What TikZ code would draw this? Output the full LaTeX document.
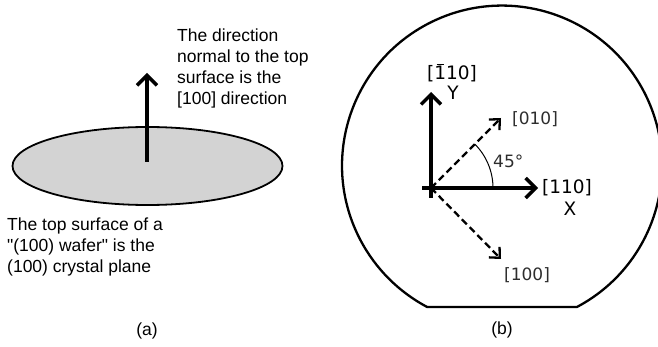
\documentclass[tikz,border=0pt]{standalone}
\usepackage{fontspec}
\setmainfont{Liberation Sans}
\newfontfamily\dejavu{DejaVu Sans}
\usetikzlibrary{arrows.meta,shapes.geometric}
\definecolor{wafergray}{RGB}{211,211,211}
\definecolor{lblgray}{RGB}{45,45,45}
\tikzset{
  txt/.style={inner sep=0pt, align=left, font=\fontsize{17.5}{21}\selectfont},
  captxt/.style={inner sep=0pt, font=\fontsize{17.5}{21}\selectfont},
  lblbig/.style={inner sep=0pt, font=\dejavu\fontsize{18.5}{20}\selectfont},
  lblsm/.style={inner sep=0pt, text=lblgray, font=\dejavu\fontsize{17}{18}\selectfont},
  thickarrow/.style={line width=3.4pt, -{Straight Barb[length=10pt,width=20pt,line width=3.4pt]}},
  dasharrow/.style={line width=2.3pt, dash pattern=on 7pt off 4pt, -{Straight Barb[length=8pt,width=15pt,line width=2.3pt]}},
}
\begin{document}
\begin{tikzpicture}[x=1pt,y=-1pt]
\useasboundingbox (0,0) rectangle (658,347);
% ---------- panel (a)
\node[draw, line width=1.8pt, fill=wafergray, ellipse, inner sep=0pt,
      minimum width=270pt, minimum height=78pt] (wafer) at (147.5,166) {};
\coordinate (ntip) at (147,73);
\draw[thickarrow] (147,162) -- (ntip);
\node[txt, anchor=west] (normtxt) at (177,68.5)
  {The direction\\normal to the top\\surface is the\\[0pt][100] direction};
\node[txt, anchor=west] (surftxt) at (7,247)
  {The top surface of a\\\textquotedbl(100) wafer\textquotedbl{} is the\\(100) crystal plane};
\node[captxt] (capa) at (147,331) {(a)};
% ---------- panel (b)
\draw[line width=2.3pt] (576.9,307) arc[start angle=62.1, end angle=-242.1, radius=160] -- cycle;
\coordinate (O) at (431,188);
\coordinate (Ytip) at (431,92);
\coordinate (Ybot) at (431,198);
\coordinate (Xtip) at (538,188);
\coordinate (Xleft) at (422,188);
\coordinate (A010) at (501,118);
\coordinate (A100) at (501,259);
\draw[thickarrow] (Ybot) -- (Ytip);
\draw[thickarrow] (Xleft) -- (Xtip);
\draw[dasharrow] (O) -- (A010);
\draw[dasharrow] (O) -- (A100);
\draw[line width=1pt] (O) ++(62,0) arc[start angle=0, end angle=-45, radius=62];
\node[lblbig, anchor=west] (l110) at (542,188) {[110]};
\node[lblbig] (lX) at (570,209) {X};
\node[lblbig, anchor=base west] (lm110) at (427,80)
  {[\makebox[0pt][l]{\hspace{0.12em}\rule[15pt]{0.42em}{1.3pt}}110]};
\node[lblbig] (lY) at (453,93) {Y};
\node[lblsm, anchor=west] (l010) at (512,119) {[010]};
\node[lblsm, anchor=west] (l100) at (504,275) {[100]};
\node[lblsm, anchor=west] (l45) at (493,161) {45°};
\node[captxt] (capb) at (502,330) {(b)};
\end{tikzpicture}
\end{document}
